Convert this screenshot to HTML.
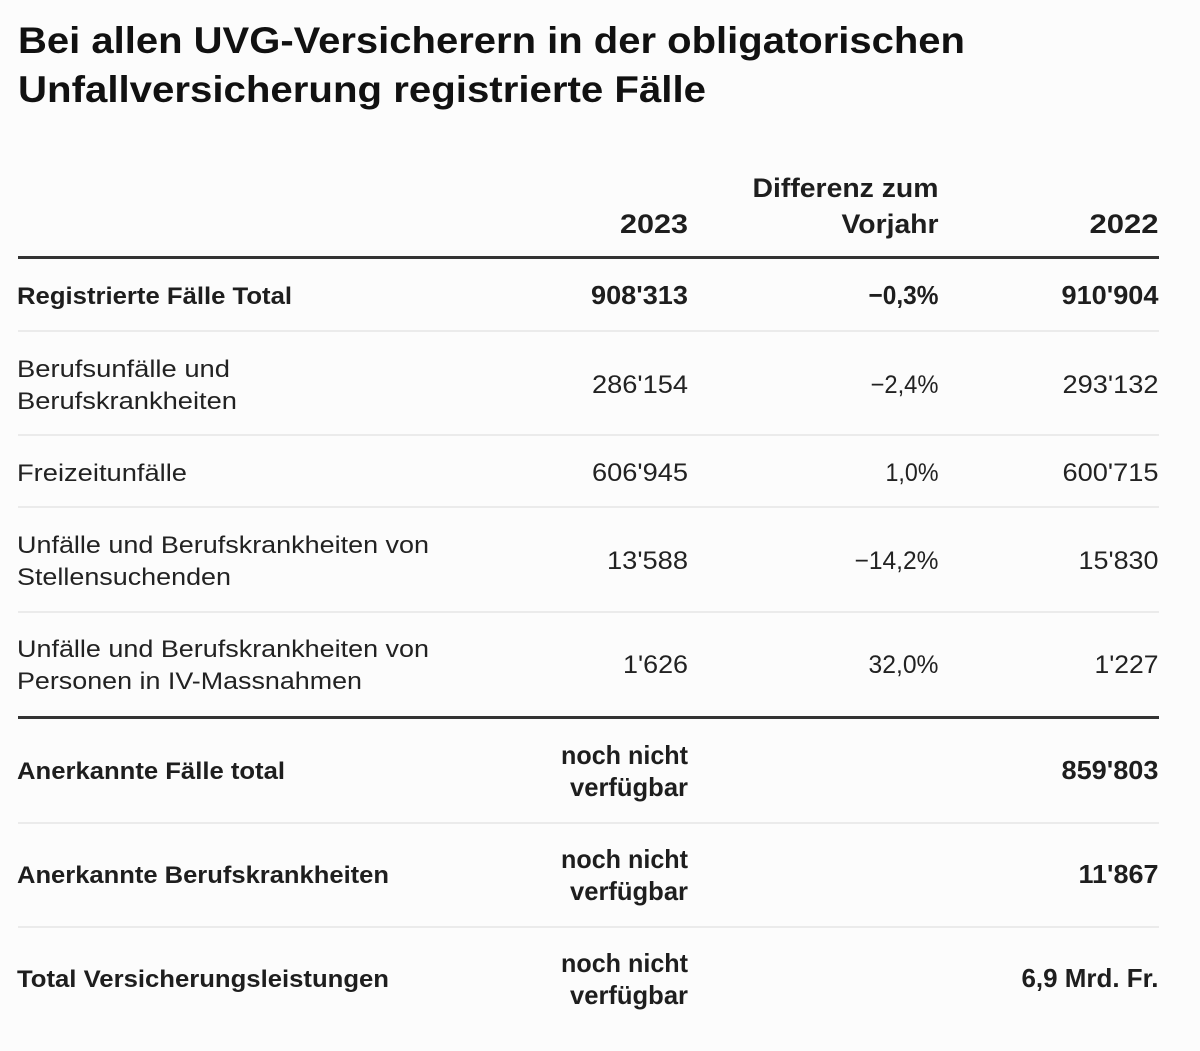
<!DOCTYPE html>
<html lang="de">
<head>
<meta charset="utf-8">
<style>
  html, body { margin: 0; padding: 0; background: #fcfcfc; }
  svg { display: block; }
  text { font-family: "Liberation Sans", Arial, sans-serif; fill: #1e1e1e; }
  .t { font-size: 37px; font-weight: bold; fill: #111; }
  .b { font-size: 24px; font-weight: bold; }
  .r { font-size: 24px; font-weight: normal; fill: #222; }
  .bn { font-size: 26px; font-weight: bold; }
  .rn { font-size: 25px; font-weight: normal; fill: #222; }
  .h { font-size: 27px; font-weight: bold; }
</style>
</head>
<body>
<svg width="1200" height="1051" viewBox="0 0 1200 1051" xmlns="http://www.w3.org/2000/svg">
  <rect x="0" y="0" width="1200" height="1051" fill="#fcfcfc"/>

  <!-- Title -->
  <text class="t" x="18" y="53" textLength="947" lengthAdjust="spacingAndGlyphs">Bei allen UVG-Versicherern in der obligatorischen</text>
  <text class="t" x="18" y="102" textLength="688" lengthAdjust="spacingAndGlyphs">Unfallversicherung registrierte Fälle</text>

  <!-- Header -->
  <text class="h" x="938.5" y="197" text-anchor="end" textLength="186" lengthAdjust="spacingAndGlyphs">Differenz zum</text>
  <text class="h" x="688" y="233" text-anchor="end" textLength="68" lengthAdjust="spacingAndGlyphs">2023</text>
  <text class="h" x="938.5" y="233" text-anchor="end" textLength="97" lengthAdjust="spacingAndGlyphs">Vorjahr</text>
  <text class="h" x="1158.5" y="233" text-anchor="end" textLength="69" lengthAdjust="spacingAndGlyphs">2022</text>

  <rect x="18" y="256" width="1141" height="3" fill="#333"/>

  <!-- Row 1 -->
  <text class="b" x="17" y="304" textLength="275" lengthAdjust="spacingAndGlyphs">Registrierte Fälle Total</text>
  <text class="bn" x="688" y="304" text-anchor="end" textLength="97" lengthAdjust="spacingAndGlyphs">908'313</text>
  <text class="bn" x="938.5" y="304" text-anchor="end" textLength="70" lengthAdjust="spacingAndGlyphs">−0,3%</text>
  <text class="bn" x="1158.5" y="304" text-anchor="end" textLength="97" lengthAdjust="spacingAndGlyphs">910'904</text>

  <rect x="18" y="330" width="1141" height="2" fill="#ebebeb"/>

  <!-- Row 2 -->
  <text class="r" x="17" y="377" textLength="213" lengthAdjust="spacingAndGlyphs">Berufsunfälle und</text>
  <text class="r" x="17" y="409" textLength="220" lengthAdjust="spacingAndGlyphs">Berufskrankheiten</text>
  <text class="rn" x="688" y="393" text-anchor="end" textLength="96" lengthAdjust="spacingAndGlyphs">286'154</text>
  <text class="rn" x="938.5" y="393" text-anchor="end" textLength="68" lengthAdjust="spacingAndGlyphs">−2,4%</text>
  <text class="rn" x="1158.5" y="393" text-anchor="end" textLength="96" lengthAdjust="spacingAndGlyphs">293'132</text>

  <rect x="18" y="434" width="1141" height="2" fill="#ebebeb"/>

  <!-- Row 3 -->
  <text class="r" x="17" y="481" textLength="170" lengthAdjust="spacingAndGlyphs">Freizeitunfälle</text>
  <text class="rn" x="688" y="481" text-anchor="end" textLength="96" lengthAdjust="spacingAndGlyphs">606'945</text>
  <text class="rn" x="938.5" y="481" text-anchor="end" textLength="53" lengthAdjust="spacingAndGlyphs">1,0%</text>
  <text class="rn" x="1158.5" y="481" text-anchor="end" textLength="96" lengthAdjust="spacingAndGlyphs">600'715</text>

  <rect x="18" y="506" width="1141" height="2" fill="#ebebeb"/>

  <!-- Row 4 -->
  <text class="r" x="17" y="553" textLength="412" lengthAdjust="spacingAndGlyphs">Unfälle und Berufskrankheiten von</text>
  <text class="r" x="17" y="585" textLength="214" lengthAdjust="spacingAndGlyphs">Stellensuchenden</text>
  <text class="rn" x="688" y="569" text-anchor="end" textLength="81" lengthAdjust="spacingAndGlyphs">13'588</text>
  <text class="rn" x="938.5" y="569" text-anchor="end" textLength="84" lengthAdjust="spacingAndGlyphs">−14,2%</text>
  <text class="rn" x="1158.5" y="569" text-anchor="end" textLength="80" lengthAdjust="spacingAndGlyphs">15'830</text>

  <rect x="18" y="611" width="1141" height="2" fill="#ebebeb"/>

  <!-- Row 5 -->
  <text class="r" x="17" y="657" textLength="412" lengthAdjust="spacingAndGlyphs">Unfälle und Berufskrankheiten von</text>
  <text class="r" x="17" y="689" textLength="345" lengthAdjust="spacingAndGlyphs">Personen in IV-Massnahmen</text>
  <text class="rn" x="688" y="673" text-anchor="end" textLength="65" lengthAdjust="spacingAndGlyphs">1'626</text>
  <text class="rn" x="938.5" y="673" text-anchor="end" textLength="70" lengthAdjust="spacingAndGlyphs">32,0%</text>
  <text class="rn" x="1158.5" y="673" text-anchor="end" textLength="64" lengthAdjust="spacingAndGlyphs">1'227</text>

  <rect x="18" y="716" width="1141" height="3" fill="#333"/>

  <!-- Row 6 -->
  <text class="b" x="17" y="779" textLength="268" lengthAdjust="spacingAndGlyphs">Anerkannte Fälle total</text>
  <text class="bn" x="688" y="764" text-anchor="end" textLength="127" lengthAdjust="spacingAndGlyphs">noch nicht</text>
  <text class="bn" x="688" y="796" text-anchor="end" textLength="118" lengthAdjust="spacingAndGlyphs">verfügbar</text>
  <text class="bn" x="1158.5" y="779" text-anchor="end" textLength="97" lengthAdjust="spacingAndGlyphs">859'803</text>

  <rect x="18" y="822" width="1141" height="2" fill="#ebebeb"/>

  <!-- Row 7 -->
  <text class="b" x="17" y="883" textLength="372" lengthAdjust="spacingAndGlyphs">Anerkannte Berufskrankheiten</text>
  <text class="bn" x="688" y="868" text-anchor="end" textLength="127" lengthAdjust="spacingAndGlyphs">noch nicht</text>
  <text class="bn" x="688" y="900" text-anchor="end" textLength="118" lengthAdjust="spacingAndGlyphs">verfügbar</text>
  <text class="bn" x="1158.5" y="883" text-anchor="end" textLength="80" lengthAdjust="spacingAndGlyphs">11'867</text>

  <rect x="18" y="926" width="1141" height="2" fill="#ebebeb"/>

  <!-- Row 8 -->
  <text class="b" x="17" y="987" textLength="372" lengthAdjust="spacingAndGlyphs">Total Versicherungsleistungen</text>
  <text class="bn" x="688" y="972" text-anchor="end" textLength="127" lengthAdjust="spacingAndGlyphs">noch nicht</text>
  <text class="bn" x="688" y="1004" text-anchor="end" textLength="118" lengthAdjust="spacingAndGlyphs">verfügbar</text>
  <text class="bn" x="1158.5" y="987" text-anchor="end" textLength="137" lengthAdjust="spacingAndGlyphs">6,9 Mrd. Fr.</text>
</svg>
</body>
</html>
